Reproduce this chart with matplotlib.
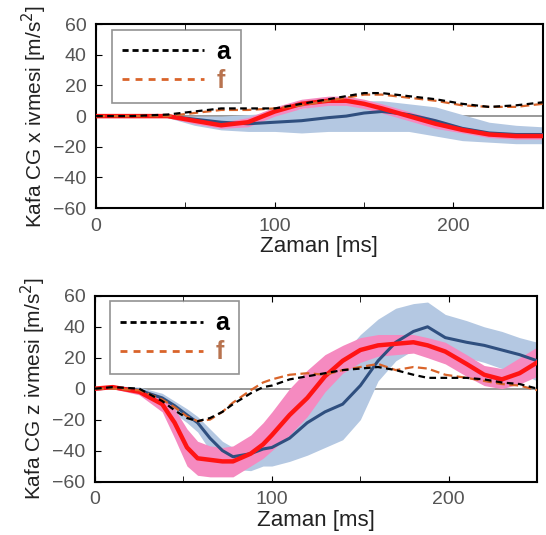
import numpy as np
import matplotlib.pyplot as plt
from matplotlib.lines import Line2D

plt.rcParams['font.family'] = ['Liberation Sans', 'DejaVu Sans']

# ---- ust panel: x ivmesi ----
tx = [0, 20, 40, 55, 70, 85, 100, 115, 130, 140, 150, 160, 175, 190, 205, 220, 235, 250]
x_a = [0, 0, 1, 3, 5, 5, 5, 8, 11, 13, 15, 15, 13, 11, 8, 6, 7, 9]
x_f = [0, 0, 0, 2, 4, 4, 5, 7, 10, 12, 14, 14, 12, 10, 7, 6, 6, 8]
x_red = [0, 0, 0, -3, -6, -4, 3, 8, 10, 10, 8, 5, 0, -5, -9, -12, -13, -13]
x_red_hi = [1, 1, 1, -1, -4, -1, 6, 11, 13, 13, 11, 8, 3, -2, -7, -10, -11, -11]
x_red_lo = [-1, -1, -1, -5, -8, -7, 0, 5, 7, 7, 5, 2, -3, -8, -11, -14, -15, -15]
x_blue = [0, 0, 0, -2, -4, -5, -4, -3, -1, 0, 2, 3, 1, -3, -8, -11, -12, -12]
x_blue_hi = [0, 0, 0, 0, 0, 1, 2, 5, 8, 9, 10, 10, 8, 6, 1, -4, -6, -7]
x_blue_lo = [0, 0, -1, -6, -9, -10, -10, -11, -10, -10, -10, -10, -10, -13, -16, -17, -18, -18]

# ---- alt panel: z ivmesi ----
tz = [0, 10, 25, 38, 45, 52, 58, 65, 72, 78, 88, 95, 100, 110, 120, 130, 140, 150, 160,
      170, 180, 188, 198, 210, 220, 230, 240, 250]
z_a = [0, 1, 0, -8, -14, -19, -21, -19, -15, -10, -3, 1, 2, 6, 8, 10, 12, 13, 14,
       12, 9, 7, 7, 7, 6, 4, 3, 0]
z_f = [0, 0, -1, -7, -12, -18, -21, -20, -15, -9, -1, 4, 6, 9, 10, 9, 12, 14, 16,
       12, 14, 13, 9, 7, 5, 3, 2, -1]
z_red = [0, 1, -2, -10, -22, -38, -45, -46, -47, -47, -42, -36, -30, -17, -6, 8, 18, 25, 28,
         29, 30, 28, 24, 16, 9, 6, 10, 17]
z_red_hi = [1, 2, 0, -5, -13, -26, -34, -37, -38, -37, -30, -22, -15, 0, 12, 22, 28, 33, 35,
            35, 35, 33, 30, 22, 15, 13, 20, 27]
z_red_lo = [-1, 0, -4, -15, -32, -50, -56, -57, -57, -57, -50, -45, -40, -30, -18, -2, 10, 17, 21,
            22, 23, 20, 16, 8, 2, 0, 3, 8]
z_blue = [0, 1, -1, -6, -11, -17, -22, -32, -40, -44, -42, -39, -38, -32, -22, -15, -10, 2, 18,
          30, 37, 40, 33, 30, 28, 25, 22, 18]
z_blue_hi = [1, 2, 1, -3, -8, -13, -18, -26, -34, -38, -34, -30, -26, -10, 0, 12, 22, 35, 45,
             52, 55, 56, 48, 44, 40, 37, 33, 30]
z_blue_lo = [-1, 0, -3, -10, -16, -22, -28, -40, -48, -52, -53, -50, -50, -47, -43, -38, -33, -20, 5,
             18, 25, 25, 22, 20, 17, 13, 10, 5]

ticks_x = [0, 100, 200]
ticks_y = [-60, -40, -20, 0, 20, 40, 60]

c_red = '#ff1414'
c_pink = '#f58ac0'
c_blue = '#2f4f7f'
c_lblue = '#b4c8e2'
c_orange = '#d9642a'


def panel(ax, t, a, f, red, red_hi, red_lo, blue, blue_hi, blue_lo, ylabel):
    ax.axhline(0, color='#888888', lw=1.2, zorder=0)
    ax.fill_between(t, blue_lo, blue_hi, color=c_lblue, lw=0, zorder=1)
    ax.fill_between(t, red_lo, red_hi, color=c_pink, lw=0, zorder=2)
    ax.plot(t, blue, color=c_blue, lw=2.2, zorder=3)
    ax.plot(t, red, color=c_red, lw=3.2, zorder=4)
    ax.plot(t, f, color=c_orange, lw=1.6, ls=(0, (4, 2)), zorder=5)
    ax.plot(t, a, color='black', lw=1.6, ls=(0, (3, 2)), zorder=6)
    ax.set_xlim(0, 250)
    ax.set_ylim(-60, 60)
    ax.set_xticks(ticks_x)
    ax.set_xticks([50, 150, 250], minor=True)
    ax.set_yticks(ticks_y)
    ax.tick_params(direction='in', top=True, right=False, which='both',
                   labelsize=14, labelcolor='#555555', length=4, pad=7)
    for s in ax.spines.values():
        s.set_linewidth(1.5)
    ax.set_xlabel('Zaman [ms]', fontsize=16, color='#222222', labelpad=1)
    ax.set_ylabel(ylabel, fontsize=15, color='#222222', labelpad=3)
    h = [Line2D([0], [0], color='black', lw=2, ls=(0, (2.2, 1.4))),
         Line2D([0], [0], color=c_orange, lw=2, ls=(0, (2.5, 2.2)))]
    leg = ax.legend(h, ['a', 'f'], loc='upper left', bbox_to_anchor=(0.035, 0.97),
                    fancybox=False, edgecolor='#777777', handlelength=3.3,
                    prop={'size': 18, 'weight': 'bold'}, borderpad=0.4,
                    labelspacing=0.2, handletextpad=0.5, borderaxespad=0)
    leg.get_frame().set_linewidth(1.2)
    leg.texts[0].set_color('black')
    leg.texts[1].set_color('#b8734f')


fig = plt.figure(figsize=(5.46, 5.35), dpi=100)
ax1 = fig.add_axes([0.176, 0.611, 0.818, 0.344])
ax2 = fig.add_axes([0.174, 0.100, 0.810, 0.347])

panel(ax1, tx, x_a, x_f, x_red, x_red_hi, x_red_lo, x_blue, x_blue_hi, x_blue_lo,
      'Kafa CG x ivmesi [m/s$^2$]')
panel(ax2, tz, z_a, z_f, z_red, z_red_hi, z_red_lo, z_blue, z_blue_hi, z_blue_lo,
      'Kafa CG z ivmesi [m/s$^2$]')

fig.savefig('out.png', dpi=100)
